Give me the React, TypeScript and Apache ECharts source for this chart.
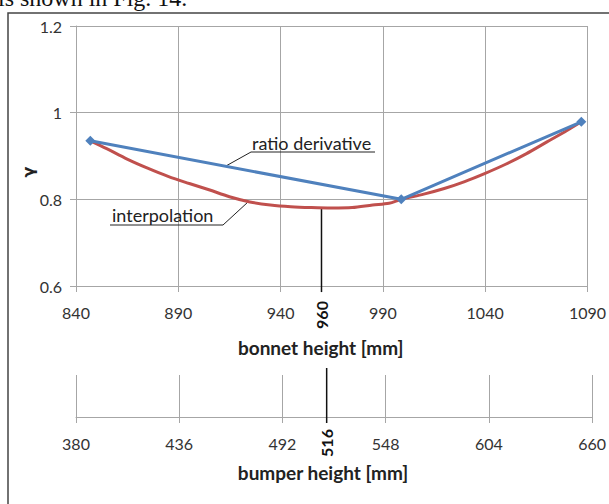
import React, { useEffect, useRef } from "react";
import * as echarts from "echarts";

// ---- data ----
const bonnetRange = [840, 1090];
const bonnetInterval = 50;
const bumperRange = [380, 660];
const bumperInterval = 56;
const gammaRange = [0.6, 1.2];
const gammaInterval = 0.2;

const ratioX = [847, 999, 1087];
const ratioY = [0.935, 0.8, 0.979];

const interpX = [847, 855, 865, 875, 885, 895, 905, 915, 925, 935, 945, 955, 965, 975, 985, 993, 999, 1010, 1020, 1030, 1040, 1050, 1060, 1070, 1080, 1087];
const interpY = [0.935, 0.917, 0.893, 0.872, 0.853, 0.837, 0.822, 0.806, 0.794, 0.787, 0.783, 0.781, 0.78, 0.781, 0.787, 0.791, 0.8, 0.812, 0.825, 0.841, 0.86, 0.881, 0.905, 0.932, 0.959, 0.979];

const optimumBonnet = 960;
const optimumBumper = 516;
const optimumGamma = 0.78;

const seriesNames = ["ratio derivative", "interpolation"];
const axisTitles = ["bonnet height [mm]", "bumper height [mm]"];
const yTitle = "γ";
const caption = "is shown in Fig. 14.";

const BLUE = "#4f81bd";
const RED = "#c0504d";
const GRID = "#a6a6a6";
const LABEL = "#333333";
const FONT = "Lato";

export default function App() {
  const ref = useRef<HTMLDivElement>(null);
  useEffect(() => {
    if (!ref.current) return;
    const chart = echarts.init(ref.current, null, { renderer: "svg" });
    const axisLabel = { color: LABEL, fontSize: 16, fontFamily: FONT, margin: 18, formatter: (v: number) => String(v) };
    const nameStyle = { color: "#222", fontSize: 19, fontWeight: "bold", fontFamily: FONT, padding: [0, 22, 0, 0] };
    chart.setOption({
      animation: false,
      grid: [
        { left: 76, top: 26, width: 512, height: 260 },
        { left: 76, top: 375, width: 518, height: 42 },
      ],
      xAxis: [
        {
          type: "value", gridIndex: 0, min: bonnetRange[0], max: bonnetRange[1], interval: bonnetInterval,
          axisLine: { show: true, lineStyle: { color: GRID, width: 1 } },
          axisTick: { show: true, length: 6, lineStyle: { color: GRID } },
          splitLine: { show: true, lineStyle: { color: GRID, width: 1 } },
          axisLabel,
          name: axisTitles[0], nameLocation: "middle", nameGap: 52, nameTextStyle: nameStyle,
        },
        {
          type: "value", gridIndex: 1, min: bumperRange[0], max: bumperRange[1], interval: bumperInterval,
          axisLine: { show: true, lineStyle: { color: GRID, width: 1 } },
          axisTick: { show: true, length: 6, lineStyle: { color: GRID } },
          splitLine: { show: true, lineStyle: { color: GRID, width: 1 } },
          axisLabel,
          name: axisTitles[1], nameLocation: "middle", nameGap: 46, nameTextStyle: nameStyle,
        },
      ],
      yAxis: [
        {
          type: "value", gridIndex: 0, min: gammaRange[0], max: gammaRange[1], interval: gammaInterval,
          axisLine: { show: true, lineStyle: { color: GRID, width: 1 } },
          axisTick: { show: true, length: 6, lineStyle: { color: GRID } },
          splitLine: { show: true, lineStyle: { color: GRID, width: 1 } },
          axisLabel: { color: LABEL, fontSize: 16, fontFamily: FONT, margin: 14 },
        },
        { type: "value", gridIndex: 1, min: 0, max: 1, show: false },
      ],
      series: [
        {
          name: "optimum bonnet", type: "line", xAxisIndex: 0, yAxisIndex: 0, clip: false,
          data: [[optimumBonnet, optimumGamma], [optimumBonnet, 0.586]],
          showSymbol: false, lineStyle: { color: "#111", width: 1.5 }, z: 1,
        },
        {
          name: "optimum bumper", type: "line", xAxisIndex: 1, yAxisIndex: 1, clip: false,
          data: [[optimumBumper, 1.167], [optimumBumper, -0.143]],
          showSymbol: false, lineStyle: { color: "#111", width: 1.5 },
        },
        {
          name: seriesNames[1], type: "line", xAxisIndex: 0, yAxisIndex: 0,
          data: interpX.map((x, i) => [x, interpY[i]]),
          showSymbol: false, smooth: 0.3, lineStyle: { color: RED, width: 3 }, z: 3,
        },
        {
          name: seriesNames[0], type: "line", xAxisIndex: 0, yAxisIndex: 0,
          data: ratioX.map((x, i) => [x, ratioY[i]]),
          symbol: "diamond", symbolSize: 10, showSymbol: true,
          itemStyle: { color: BLUE }, lineStyle: { color: BLUE, width: 3 }, z: 4,
        },
      ],
    });

    const p960 = chart.convertToPixel({ xAxisIndex: 0, yAxisIndex: 0 }, [optimumBonnet, gammaRange[0]]) as number[];
    const p516 = chart.convertToPixel({ xAxisIndex: 1, yAxisIndex: 1 }, [optimumBumper, 0]) as number[];

    const annoFont = { fontSize: 18, fontFamily: FONT, fill: "#222" };
    chart.setOption({
      graphic: [
        { type: "rect", shape: { x: 8, y: 13, width: 700, height: 600 }, style: { fill: "none", stroke: "#444", lineWidth: 1.5 }, silent: true },
        { type: "text", x: -2, y: -2, style: { text: caption, fontSize: 24, fontFamily: "Liberation Serif", fill: "#111", align: "left", verticalAlign: "middle" } },
        { type: "text", x: 28, y: 172, rotation: Math.PI / 2, style: { text: yTitle, fontSize: 16, fontWeight: "bold", fontFamily: "DejaVu Sans", fill: "#222", align: "center", verticalAlign: "middle" } },
        { type: "text", x: p960[0], y: p960[1] + 29, rotation: Math.PI / 2, style: { text: String(optimumBonnet), fontSize: 16, fontWeight: "bold", fontFamily: FONT, fill: "#111", align: "center", verticalAlign: "middle" } },
        { type: "text", x: p516[0], y: p516[1] + 26, rotation: Math.PI / 2, style: { text: String(optimumBumper), fontSize: 16, fontWeight: "bold", fontFamily: FONT, fill: "#111", align: "center", verticalAlign: "middle" } },
        { type: "text", x: 252, y: 143, style: { text: seriesNames[0], ...annoFont, align: "left", verticalAlign: "middle" } },
        { type: "polyline", shape: { points: [[375, 152], [251, 152], [225, 166.5]] }, style: { stroke: "#222", lineWidth: 1, fill: "none" } },
        { type: "text", x: 112, y: 215, style: { text: seriesNames[1], ...annoFont, align: "left", verticalAlign: "middle" } },
        { type: "polyline", shape: { points: [[110, 225], [223, 225], [248, 202]] }, style: { stroke: "#222", lineWidth: 1, fill: "none" } },
      ],
    });
    return () => chart.dispose();
  }, []);
  return (
    <div
      ref={ref}
      style={{ position: "fixed", left: 0, top: 0, width: 609, height: 504, background: "#fff" }}
    />
  );
}
